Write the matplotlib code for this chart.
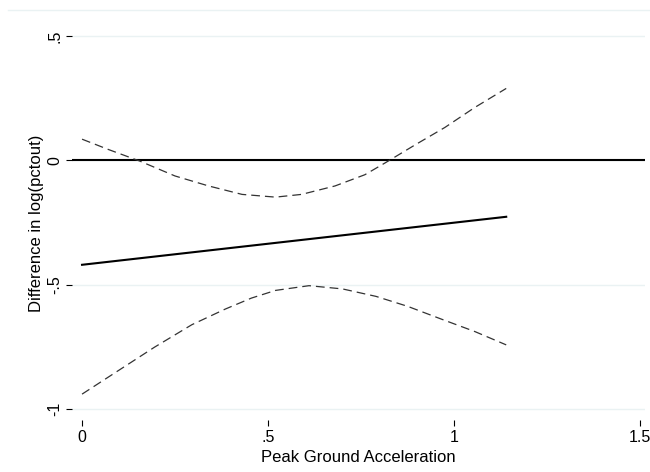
import numpy as np
import matplotlib.pyplot as plt
from matplotlib.lines import Line2D

plt.rcParams['font.family'] = ['Liberation Sans', 'DejaVu Sans']

# values
up_x = [0, 0.07, 0.155, 0.25, 0.34, 0.43, 0.52, 0.59, 0.68, 0.76, 0.815, 0.895, 0.975, 1.055, 1.14]
upper = [0.085, 0.044, -0.003, -0.063, -0.103, -0.137, -0.148, -0.137, -0.103, -0.058, -0.01, 0.062, 0.132, 0.212, 0.289]
lo_x = [0, 0.1, 0.195, 0.295, 0.385, 0.455, 0.52, 0.61, 0.7, 0.79, 0.875, 0.965, 1.055, 1.14]
lower = [-0.94, -0.843, -0.751, -0.661, -0.598, -0.554, -0.523, -0.504, -0.517, -0.547, -0.587, -0.638, -0.688, -0.742]
fit_x = [0, 1.14]
fit_y = [-0.42, -0.227]

xticks = [0, 0.5, 1, 1.5]
xlabels = ['0', '.5', '1', '1.5']
yticks = [-1, -0.5, 0, 0.5]
ylabels = ['-1', '-.5', '0', '.5']

fig = plt.figure(figsize=(6.5, 4.72), dpi=100)
ax = fig.add_axes([72/650, 1-420/472, (645-72)/650, (420-26)/472])

grid_c = '#eaf2f3'
for t in yticks:
    ax.axhline(t, color=grid_c, lw=1.0, zorder=0)

ax.axhline(0, color='black', lw=1.5, zorder=2)
ax.plot(fit_x, fit_y, color='black', lw=1.5, zorder=3)
ax.plot(up_x, upper, color='#333333', lw=0.9, dashes=(7, 4), zorder=3)
ax.plot(lo_x, lower, color='#333333', lw=0.9, dashes=(7, 4), zorder=3)

ax.set_xlim(-0.027, 1.513)
ax.set_ylim(-1.044, 0.54)
for s in ax.spines.values():
    s.set_visible(False)

ax.set_xticks(xticks)
ax.set_xticklabels(xlabels)
ax.set_yticks(yticks)
ax.set_yticklabels(ylabels, rotation=90, va='center')
ax.tick_params(direction='out', length=4, width=0.8, colors='black', labelsize=11.5, pad=3)

ax.set_xlabel('Peak Ground Acceleration', fontsize=12, labelpad=4)
ax.set_ylabel('Difference in log(pctout)', fontsize=12, labelpad=2)

# faint outer frame line at top
fig.add_artist(Line2D([8/650, 1], [1-10/472, 1-10/472], color=grid_c, lw=1.0))

fig.savefig('out.png', dpi=100, facecolor='white')
